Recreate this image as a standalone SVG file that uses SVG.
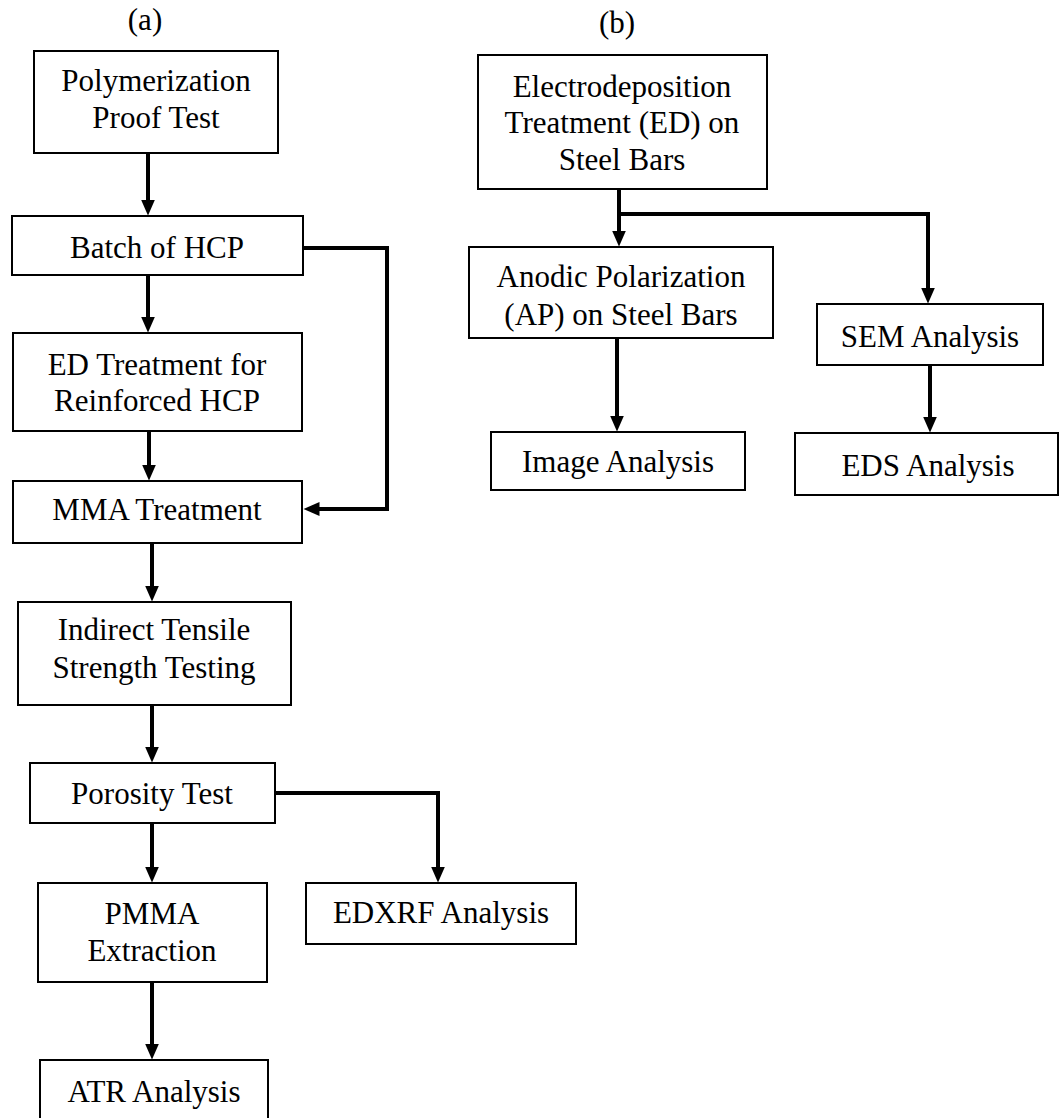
<svg xmlns="http://www.w3.org/2000/svg" width="1060" height="1118" viewBox="0 0 1060 1118">
<style>
.box{fill:#fff;stroke:#000;stroke-width:2}
.t{font-family:"Liberation Serif","Times New Roman",serif;font-size:31px;fill:#000;text-anchor:middle}
.c{fill:none;stroke:#000;stroke-width:4;marker-end:url(#ah)}
</style>
<defs>
<marker id="ah" markerUnits="userSpaceOnUse" markerWidth="17" markerHeight="15" refX="0.5" refY="7" orient="auto">
<path d="M0,0 L16,7 L0,14 z" fill="#000"/>
</marker>
</defs>
<rect width="1060" height="1118" fill="#fff"/>
<text class="t" x="145" y="30">(a)</text>
<text class="t" x="617" y="33">(b)</text>
<g id="connectors">
<path class="c" d="M148,153 V200"/>
<path class="c" d="M148,275 V317"/>
<path class="c" d="M303,248 H387 V509 H319"/>
<path class="c" d="M149,431 V465"/>
<path class="c" d="M152,543 V586"/>
<path class="c" d="M152,705 V747"/>
<path class="c" d="M152,823 V867"/>
<path class="c" d="M275,793 H438 V867"/>
<path class="c" d="M152,982 V1044"/>
<path class="c" d="M619,189 V231"/>
<path class="c" d="M619,214 H928 V288"/>
<path class="c" d="M617,338 V416"/>
<path class="c" d="M930,365 V417"/>
</g>
<g id="poly"><rect class="box" x="34" y="51" width="244" height="102"/><text class="t" x="156" y="91">Polymerization</text><text class="t" x="156" y="128">Proof Test</text></g>
<g id="batch"><rect class="box" x="12" y="216" width="291" height="59"/><text class="t" x="157" y="258">Batch of HCP</text></g>
<g id="ed"><rect class="box" x="13" y="333" width="289" height="98"/><text class="t" x="157" y="375">ED Treatment for</text><text class="t" x="157" y="411">Reinforced HCP</text></g>
<g id="mma"><rect class="box" x="13" y="481" width="289" height="62"/><text class="t" x="157" y="520">MMA Treatment</text></g>
<g id="indirect"><rect class="box" x="18" y="602" width="273" height="103"/><text class="t" x="154" y="640">Indirect Tensile</text><text class="t" x="154" y="678">Strength Testing</text></g>
<g id="porosity"><rect class="box" x="30" y="763" width="245" height="60"/><text class="t" x="152" y="804">Porosity Test</text></g>
<g id="pmma"><rect class="box" x="38" y="883" width="229" height="99"/><text class="t" x="152" y="924">PMMA</text><text class="t" x="152" y="961">Extraction</text></g>
<g id="edxrf"><rect class="box" x="306" y="883" width="270" height="61"/><text class="t" x="441" y="923">EDXRF Analysis</text></g>
<g id="atr"><rect class="box" x="40" y="1060" width="228" height="70"/><text class="t" x="154" y="1102">ATR Analysis</text></g>
<g id="electro"><rect class="box" x="478" y="55" width="289" height="134"/><text class="t" x="622" y="97">Electrodeposition</text><text class="t" x="622" y="133">Treatment (ED) on</text><text class="t" x="622" y="170">Steel Bars</text></g>
<g id="anodic"><rect class="box" x="469" y="247" width="304" height="91"/><text class="t" x="621" y="287">Anodic Polarization</text><text class="t" x="621" y="325">(AP) on Steel Bars</text></g>
<g id="sem"><rect class="box" x="817" y="304" width="226" height="61"/><text class="t" x="930" y="347">SEM Analysis</text></g>
<g id="image"><rect class="box" x="491" y="432" width="254" height="58"/><text class="t" x="618" y="472">Image Analysis</text></g>
<g id="eds"><rect class="box" x="795" y="433" width="263" height="62"/><text class="t" x="928" y="476">EDS Analysis</text></g>
</svg>
